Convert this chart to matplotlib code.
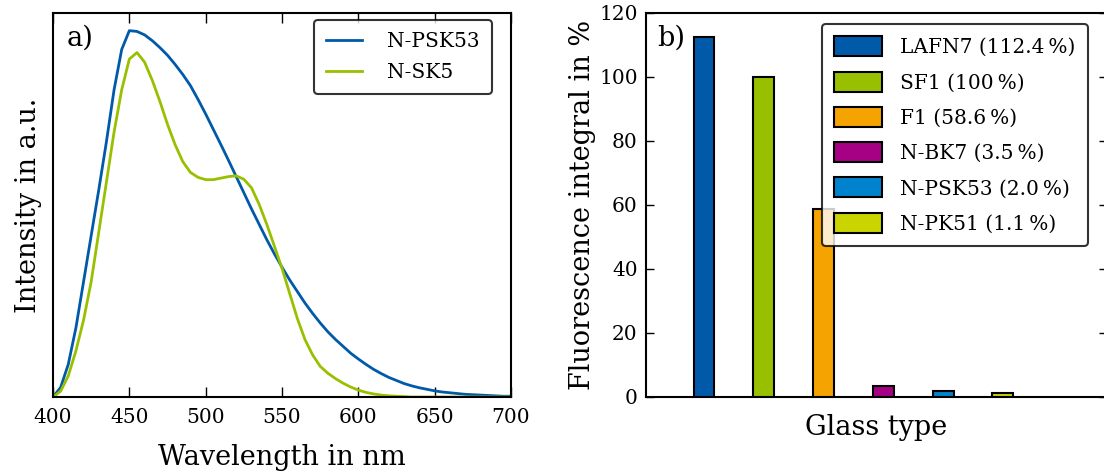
import numpy as np
from matplotlib import pyplot as plt

# spectra, a) panel (normalised intensity, 5 nm steps)
wavelength = np.arange(400, 701, 5)
psk53 = [0.0, 0.025, 0.085, 0.18, 0.30, 0.42, 0.54, 0.665, 0.80, 0.905,
         0.954, 0.952, 0.943, 0.928, 0.91, 0.89, 0.866, 0.84, 0.811, 0.775,
         0.737, 0.697, 0.657, 0.616, 0.574, 0.532, 0.49, 0.45, 0.41, 0.373,
         0.338, 0.305, 0.275, 0.245, 0.218, 0.193, 0.17, 0.15, 0.132, 0.114,
         0.099, 0.085, 0.072, 0.061, 0.051, 0.043, 0.035, 0.029, 0.024, 0.02,
         0.016, 0.013, 0.011, 0.009, 0.007, 0.006, 0.005, 0.004, 0.003, 0.002,
         0.002]
sk5 = [0.0, 0.015, 0.055, 0.12, 0.20, 0.30, 0.43, 0.56, 0.69, 0.80,
       0.88, 0.897, 0.872, 0.825, 0.77, 0.71, 0.657, 0.613, 0.585, 0.572,
       0.566, 0.566, 0.57, 0.574, 0.576, 0.567, 0.545, 0.502, 0.45, 0.393,
       0.335, 0.27, 0.205, 0.15, 0.11, 0.08, 0.062, 0.048, 0.036, 0.026,
       0.018, 0.012, 0.008, 0.005, 0.003, 0.002, 0.001, 0.0, 0.0, 0.0,
       0.0, 0.0, 0.0, 0.0, 0.0, 0.0, 0.0, 0.0, 0.0, 0.0,
       0.0]

# fluorescence integrals, b) panel
glasses = ['LAFN7', 'SF1', 'F1', 'N-BK7', 'N-PSK53', 'N-PK51']
integral = [112.4, 100, 58.6, 3.5, 2.0, 1.1]
integral_txt = ['112.4', '100', '58.6', '3.5', '2.0', '1.1']
bar_colors = ['#005AA9', '#99C000', '#F5A300', '#A60084', '#0083CC', '#C9D400']

plt.rcParams['font.family'] = ['DejaVu Serif']
plt.rcParams['axes.linewidth'] = 1.5
plt.rcParams['xtick.direction'] = 'in'
plt.rcParams['ytick.direction'] = 'in'

fig = plt.figure(figsize=(11.04, 4.72), dpi=100)

ax1 = fig.add_axes([53/1104, 75/472, 458/1104, 384/472])
ax1.plot(wavelength, psk53, color='#005AA9', lw=2, label='N-PSK53', solid_joinstyle='round')
ax1.plot(wavelength, sk5, color='#99C000', lw=2, label='N-SK5', solid_joinstyle='round')
ax1.set_xlim(400, 700)
ax1.set_ylim(0, 1.0)
ax1.set_yticks([])
ax1.tick_params(axis='x', top=True, length=7, width=1, labelsize=14.5, pad=8)
ax1.set_xlabel('Wavelength in nm', fontsize=19.5, labelpad=12)
ax1.set_ylabel('Intensity in a.u.', fontsize=19.5, labelpad=8)
ax1.text(0.03, 0.97, 'a)', transform=ax1.transAxes, fontsize=19.5, va='top', ha='left')
leg1 = ax1.legend(loc='upper right', bbox_to_anchor=(0.958, 0.982), borderaxespad=0,
                  fontsize=14.5, handlelength=1.8, handletextpad=1.25, labelspacing=0.6,
                  borderpad=0.6, fancybox=True)
leg1.get_frame().set_edgecolor('black')
leg1.get_frame().set_linewidth(1.5)

ax2 = fig.add_axes([646/1104, 75/472, 461/1104, 384/472])
x = np.arange(len(glasses))
for i in range(len(glasses)):
    ax2.bar(x[i], integral[i], width=0.35, color=bar_colors[i], edgecolor='black',
            linewidth=1.5, label=f'{glasses[i]} ({integral_txt[i]}\u2009%)', zorder=3)
ax2.set_xlim(-0.97, 6.74)
ax2.set_ylim(0, 120)
ax2.set_xticks([])
ax2.set_yticks(range(0, 121, 20))
ax2.tick_params(axis='y', right=True, length=6, width=1, labelsize=14.5, pad=6)
ax2.set_xlabel('Glass type', fontsize=19.5, labelpad=12)
ax2.set_ylabel('Fluorescence integral in %', fontsize=19.5, labelpad=2)
ax2.text(0.025, 0.97, 'b)', transform=ax2.transAxes, fontsize=19.5, va='top', ha='left', zorder=1)
leg2 = ax2.legend(loc='upper right', bbox_to_anchor=(0.958, 0.971), borderaxespad=0,
                  fontsize=14.5, handlelength=2.4, handleheight=1.15, handletextpad=0.9,
                  labelspacing=0.72, borderpad=0.6, fancybox=True)
leg2.get_frame().set_edgecolor('black')
leg2.get_frame().set_linewidth(1.5)
leg2.set_zorder(5)

plt.savefig('out.png', dpi=100)
